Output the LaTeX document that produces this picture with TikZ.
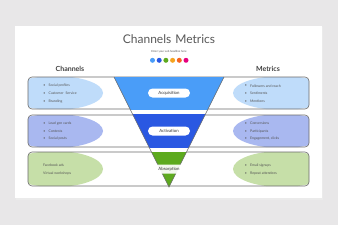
\documentclass[tikz,border=0pt]{standalone}
\usepackage{fontspec}
\setmainfont{Lato}
\usetikzlibrary{shadows}
\definecolor{bgc}{HTML}{E8E7E8}
\definecolor{cA}{HTML}{4A9DF8}
\definecolor{cB}{HTML}{2A58E2}
\definecolor{cC}{HTML}{5DAA1E}
\definecolor{eA}{HTML}{BFDCFA}
\definecolor{eB}{HTML}{A9B8F0}
\definecolor{eC}{HTML}{C6DFA8}
\definecolor{dO}{HTML}{F5A31F}
\definecolor{dR}{HTML}{F5651F}
\definecolor{dP}{HTML}{E6007E}
\definecolor{txt}{HTML}{555555}
\definecolor{edge}{HTML}{6A6A6A}
\tikzset{
  rowbox/.style={draw=edge, line width=0.6pt, rounded corners=4pt},
  pill/.style={fill=white, rounded corners=4.5pt, minimum width=42pt, minimum height=9pt, inner sep=0pt, font=\fontsize{4.3}{5}\selectfont, text=black!80},
  item/.style={anchor=west, inner sep=0pt, font=\fontsize{3.5}{4}\selectfont, text=txt},
  hdr/.style={font=\fontsize{7}{8}\selectfont\bfseries, text=black!75},
  dotc/.style={circle, inner sep=0pt, minimum size=5pt},
}
\begin{document}
\begin{tikzpicture}[x=1pt,y=-1pt]
\useasboundingbox (0,0) rectangle (338,225);
\fill[bgc] (0,0) rectangle (338,225);
\fill[black!8] (16,27) rectangle (323,199.5);
\fill[white] (15,26) rectangle (322,198);
\node[font=\fontsize{12}{14}\selectfont, text=black!65] (title) at (169,39.5) {Channels\,\,Metrics};
\node[font=\fontsize{2.8}{3}\selectfont, text=txt] (sub) at (169,51.5) {Enter your sub headline here};
\foreach \c/\i in {cA/0,cB/1,cC/2,dO/3,dR/4,dP/5}{
  \node[dotc, fill=\c] (dot\i) at (152.5+6.7*\i,60.3) {};
}
\node[hdr] (hc) at (70,69) {Channels};
\node[hdr] (hm) at (268,69) {Metrics};
% rows
\foreach \t/\b/\e/\n in {77/109/eA/1, 115/147/eB/2, 152/186/eC/3}{
  \fill[white, rounded corners=4pt] (28,\t) rectangle (309,\b);
  \begin{scope}
    \clip[rounded corners=4pt] (28,\t) rectangle (309,\b);
    \fill[\e] (55,{(\t+\b)/2}) ellipse (48 and {(\b-\t)/2+1});
    \fill[\e] (282,{(\t+\b)/2}) ellipse (49 and {(\b-\t)/2+1});
  \end{scope}
  \draw[rowbox] (28,\t) rectangle (309,\b) node[pos=0, inner sep=0pt] (row\n) {};
}
% funnel
\coordinate (ftl) at (114,77);
\coordinate (ftr) at (224,77);
\coordinate (fap) at (169,187);
\begin{scope}
  \clip (ftl) -- (ftr) -- (fap) -- cycle;
  \fill[white] (100,70) rectangle (240,190);
  \fill[cA] (100,76) rectangle (240,110);
  \fill[cB] (100,114) rectangle (240,148);
  \fill[cC] (100,152) rectangle (240,190);
\end{scope}
\draw[edge, line width=0.6pt, line join=miter] (ftl) -- (fap) -- (ftr);
\node[pill] (acq) at (169,93) {Acquisition};
\node[pill] (act) at (169,131) {Activation};
\node[pill, fill=white, fill opacity=0.92, text opacity=1] (abs) at (169,169) {Absorption};
% texts
\foreach \s/\y/\n in {Social profiles/86/a1, Customer\ \ Service/93.7/a2, Branding/101.3/a3,
                    Lead gen cards/123.5/b1, Contests/131.2/b2, Social posts/138.8/b3}{
  \node[item] (L\n) at (48.5,\y) {\s};
  \node[item, anchor=east] at ([xshift=-3pt]L\n.west) {•};
}
\foreach \s/\y/\n in {Followers and reach/86/a1, Sentiments/93.7/a2, Mentions/101.3/a3,
                    Conversions/123.5/b1, Participants/131.2/b2, {Engagement, clicks}/138.8/b3,
                    Email signups/165.7/c1, Repeat attendees/173.3/c2}{
  \node[item] (R\n) at (250,\y) {\s};
  \node[item, anchor=east] at ([xshift=-3pt]R\n.west) {•};
}
\node[item] (Lc1) at (43,165.7) {Facebook ads};
\node[item] (Lc2) at (43,173.3) {Virtual workshops};
\end{tikzpicture}
\end{document}
